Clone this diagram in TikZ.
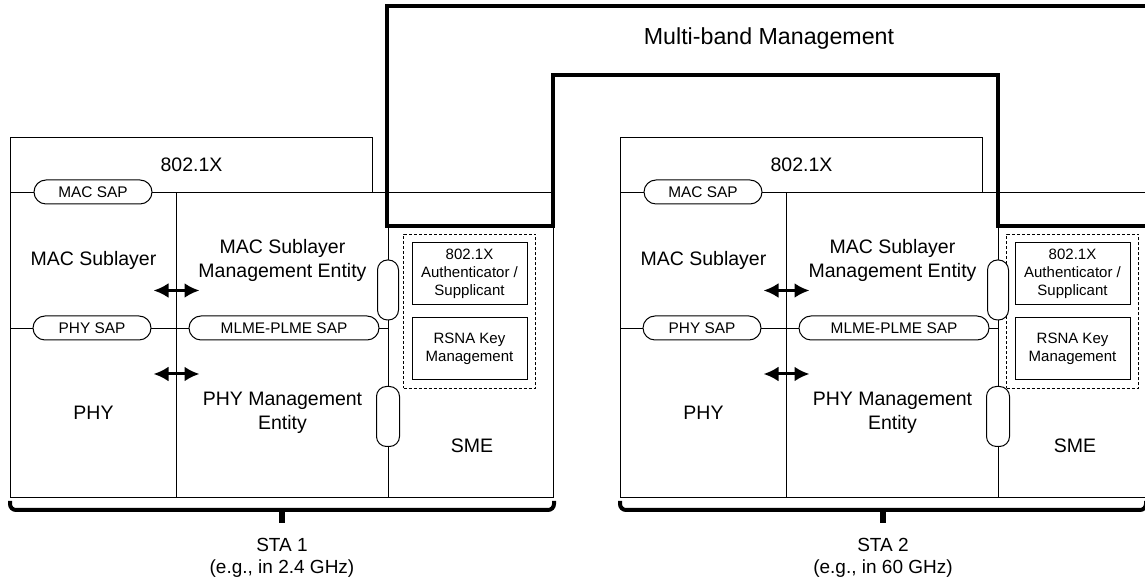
\documentclass[tikz,border=0pt]{standalone}
\usepackage{fontspec}
\setmainfont{Liberation Sans}
\usetikzlibrary{positioning,fit,arrows.meta}

\tikzset{
	layer/.style={draw, line width=0.5pt, anchor=north west, inner sep=0pt, align=center},
	sap/.style={draw, fill=white, line width=0.5pt, rounded corners=6pt, minimum height=12pt, inner sep=0pt, font=\fontsize{7.7}{9}\selectfont},
	vsap/.style={draw, fill=white, line width=0.5pt, rounded corners=5pt, minimum height=30pt, inner sep=0pt},
	smebox/.style={draw, line width=0.5pt, minimum width=57.5pt, minimum height=31pt, inner sep=0pt, align=center, font=\fontsize{7.5}{9}\selectfont},
	xchg/.style={{Latex[length=7.5pt,width=7.5pt]}-{Latex[length=7.5pt,width=7.5pt]}, line width=1.5pt},
	mbm/.style={line width=2pt},
	stabrace/.style={line width=2pt, rounded corners=3pt},
	stalbl/.style={align=center, font=\fontsize{9.5}{11}\selectfont},
}

\begin{document}
\begin{tikzpicture}[x=0.5pt, y=-0.5pt, font=\fontsize{9.75}{12}\selectfont]
	\useasboundingbox (0,0) rectangle (1145,581);

	\foreach \b/\ox/\sx/\sw/\band in {1/10/7/82.5/2.4, 2/620/0/73.5/60} {
		%the 802.1X layer and the MAC/PHY planes
		\node[layer, minimum width=181pt, minimum height=27.5pt] (dot\b) at (\ox,137) {802.1X};
		\node[layer, minimum width=83pt, minimum height=68pt] (mac\b) at (\ox,192) {MAC Sublayer};
		\node[layer, minimum width=83pt, minimum height=84.5pt] (phy\b) at (\ox,328) {PHY};
		\node[layer, minimum width=106pt, minimum height=68pt] (mlme\b) at (\ox+166,192) {MAC Sublayer\\Management Entity};
		\node[layer, minimum width=106pt, minimum height=84.5pt] (plme\b) at (\ox+166,328) {PHY Management\\Entity};

		%the station management entity
		\node[layer, minimum width=\sw pt, minimum height=152.5pt] (sme\b) at (\ox+378,192) {};
		\node (smelbl\b) at (\ox+455+\sx,446) {SME};
		\node[smebox] (auth\b) at (\ox+452.5+\sx,274) {802.1X\\Authenticator /\\Supplicant};
		\node[smebox] (rsna\b) at (\ox+452.5+\sx,349) {RSNA Key\\Management};
		\node[draw, dash pattern=on 1.5pt off 1pt, line width=0.5pt, inner sep=4pt, fit=(auth\b)(rsna\b)] (keys\b) {};

		% service access points
		\node[sap, minimum width=59pt] (macsap\b) at (\ox+83,192) {MAC SAP};
		\node[sap, minimum width=59pt] (physap\b) at (\ox+82,328) {PHY SAP};
		\node[sap, minimum width=95pt] (mlmesap\b) at (\ox+274,328) {MLME-PLME SAP};
		\node[vsap, minimum width=10.5pt] (mlmesme\b) at (\ox+378,290) {};
		\node[vsap, minimum width=11.5pt] (plmesme\b) at (\ox+378,416.5) {};

		% layer to management exchanges
		\draw[xchg] ([xshift=-11.75pt, yshift=-15pt]mac\b.east) -- ([xshift=11.75pt, yshift=-15pt]mlme\b.west);
		\draw[xchg] ([xshift=-11.75pt, yshift=19.5pt]phy\b.east) -- ([xshift=11.75pt, yshift=19.5pt]plme\b.west);

		% the station brace
		\draw[stabrace] ([yshift=-1.5pt]phy\b.south west) -- ([yshift=-6pt]phy\b.south west)
			-- coordinate[midway] (tip\b) ([yshift=-6pt]sme\b.south east) -- ([yshift=-1.5pt]sme\b.south east);
		\draw[line width=3pt] (tip\b) -- ++(0,13);
		\node[stalbl, below=10.5pt of tip\b] (sta\b) {STA \b\\(e.g., in \band\ GHz)};
	}

	% multi-band management across both SMEs
	\draw[mbm] (1150,6) -- (387,6) -- (387,226) -- (553,226) -- (553,75) -- (998,75) -- (998,226) -- (1150,226);
	\node[font=\fontsize{11.6}{14}\selectfont] (mbmlbl) at (769,39) {Multi-band Management};

\end{tikzpicture}
\end{document}
